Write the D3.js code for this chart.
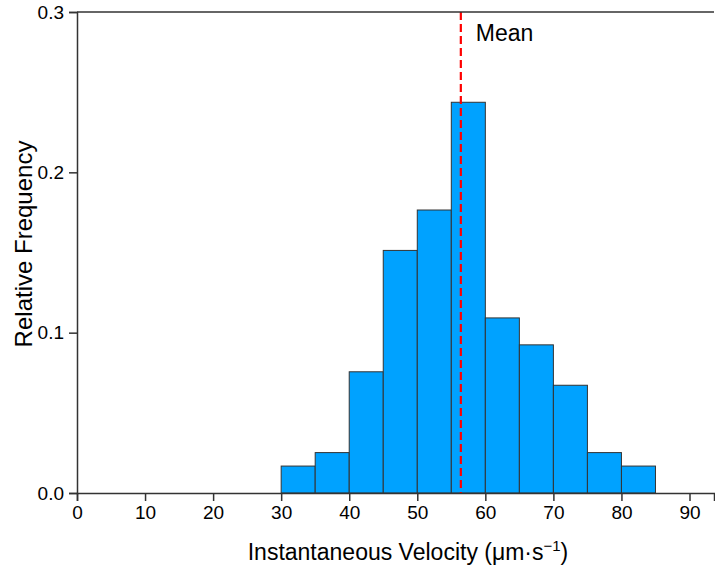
<!DOCTYPE html>
<html>
<head>
<meta charset="utf-8">
<script src="https://cdn.jsdelivr.net/npm/d3@7"></script>
<style>
  body { margin: 0; background: #fff; }
  text { font-family: "Liberation Sans", Arial, sans-serif; fill: #000; }
</style>
</head>
<body>
<svg id="chart" width="715" height="569"></svg>
<script>
// bin edges (µm/s) and relative frequency per bin
const binStarts = [30, 35, 40, 45, 50, 55, 60, 65, 70, 75, 80];
const binWidth = 5;
const relFreq = [0.0168, 0.0252, 0.0756, 0.1513, 0.1765, 0.2437, 0.1092, 0.0924, 0.0672, 0.0252, 0.0168];
const meanVelocity = 56.4;
const xTicks = [0, 10, 20, 30, 40, 50, 60, 70, 80, 90];
const yTicks = [0.0, 0.1, 0.2, 0.3];

const margin = { left: 77, top: 12, right: 1, bottom: 76 };
const width = 715, height = 569;

const svg = d3.select("#chart");

const x = d3.scaleLinear().domain([0, 93.6]).range([margin.left, width - margin.right]);
const y = d3.scaleLinear().domain([0, 0.3]).range([height - margin.bottom, margin.top]);

const bins = binStarts.map((s, i) => ({ x0: s, x1: s + binWidth, v: relFreq[i] }));

// bars
svg.append("g")
    .selectAll("rect")
    .data(bins)
    .join("rect")
    .attr("x", d => x(d.x0))
    .attr("y", d => y(d.v))
    .attr("width", d => x(d.x1) - x(d.x0))
    .attr("height", d => y(0) - y(d.v))
    .attr("fill", "#00A2FF")
    .attr("stroke", "#333")
    .attr("stroke-width", 1);

// mean line
svg.append("line")
    .attr("x1", x(meanVelocity)).attr("x2", x(meanVelocity))
    .attr("y1", y(0.3)).attr("y2", y(0))
    .attr("stroke", "#FF0000")
    .attr("stroke-width", 2.2)
    .attr("stroke-dasharray", "8,4");

svg.append("text")
    .attr("x", x(meanVelocity) + 15)
    .attr("y", 41)
    .attr("font-size", 23)
    .text("Mean");

// x axis with minor ticks
const xAxis = svg.append("g").attr("transform", `translate(0,${y(0)})`);
xAxis.call(d3.axisBottom(x).tickValues(d3.range(5, 93, 10)).tickSize(4).tickFormat(""));
xAxis.call(d3.axisBottom(x).tickValues(xTicks).tickSize(8).tickPadding(5).tickFormat(d3.format("d")));

// y axis with minor ticks
const yAxis = svg.append("g").attr("transform", `translate(${x(0)},0)`);
yAxis.call(d3.axisLeft(y).tickValues([0.05, 0.15, 0.25]).tickSize(4).tickFormat(""));
yAxis.call(d3.axisLeft(y).tickValues(yTicks).tickSize(8).tickPadding(5).tickFormat(d3.format(".1f")));

svg.selectAll(".domain").attr("stroke", "#333").attr("stroke-width", 1.5);
svg.selectAll(".tick line").attr("stroke", "#333").attr("stroke-width", 1.5);
svg.selectAll(".tick text").attr("font-size", 19).attr("font-family", "Liberation Sans, Arial, sans-serif").attr("fill", "#000");

// top border
svg.append("line")
    .attr("x1", x(0)).attr("x2", width - margin.right)
    .attr("y1", y(0.3)).attr("y2", y(0.3))
    .attr("stroke", "#333").attr("stroke-width", 1.5);

// axis titles
const xTitle = svg.append("text")
    .attr("x", 408)
    .attr("y", 560)
    .attr("text-anchor", "middle")
    .attr("font-size", 23);
xTitle.append("tspan").text("Instantaneous Velocity (\u03BCm\u00B7s");
xTitle.append("tspan").attr("font-size", 15).attr("dy", -9).text("\u22121");
xTitle.append("tspan").attr("dy", 9).text(")");

svg.append("text")
    .attr("transform", `translate(32,244) rotate(-90)`)
    .attr("text-anchor", "middle")
    .attr("font-size", 24)
    .text("Relative Frequency");
</script>
</body>
</html>
